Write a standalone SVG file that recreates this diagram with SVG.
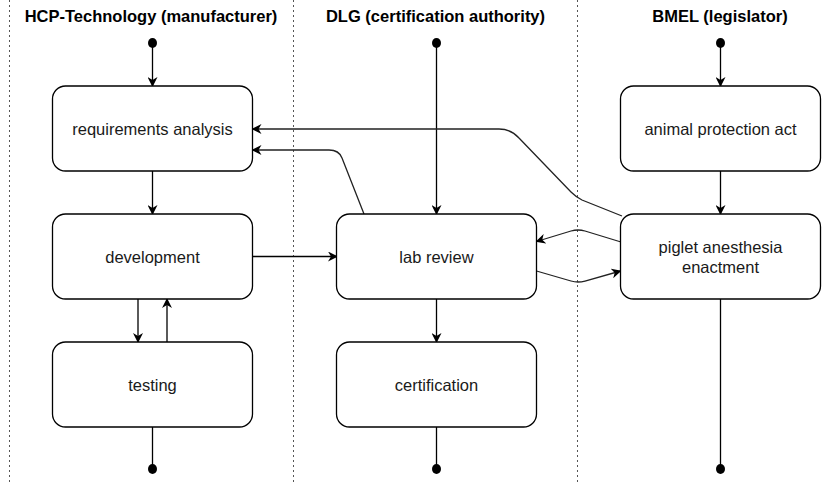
<svg xmlns="http://www.w3.org/2000/svg" width="829" height="485" viewBox="0 0 829 485">
<style>
.lane{stroke:#555;stroke-width:1;stroke-dasharray:2 3;fill:none}
.title{font-family:"Liberation Sans",Arial,sans-serif;font-size:16.5px;font-weight:bold;fill:#000;text-anchor:middle}
.box{fill:#fff;stroke:#000;stroke-width:1.3}
.lbl{font-family:"Liberation Sans",Arial,sans-serif;font-size:16.5px;fill:#1a1a1a;text-anchor:middle}
.e{fill:none;stroke:#000;stroke-width:1.3}
.c{fill:none;stroke:#222;stroke-width:1.3}
.dot{fill:#000}
</style>
<defs>
<marker id="arr" viewBox="0 0 10 10" refX="9" refY="5" markerWidth="10" markerHeight="10" markerUnits="userSpaceOnUse" orient="auto">
<path d="M0,0 L10,5 L0,10 L3,5 Z" fill="#000"/>
</marker>
</defs>
<g id="lanes">
<line class="lane" x1="9.5" y1="0" x2="9.5" y2="485"/>
<line class="lane" x1="293.5" y1="0" x2="293.5" y2="485"/>
<line class="lane" x1="577.5" y1="0" x2="577.5" y2="485"/>
<text class="title" x="151" y="22">HCP-Technology (manufacturer)</text>
<text class="title" x="435.5" y="22">DLG (certification authority)</text>
<text class="title" x="720" y="22">BMEL (legislator)</text>
</g>
<g id="connectors">
<ellipse class="dot" cx="152.5" cy="43" rx="4.5" ry="5"/>
<ellipse class="dot" cx="436.5" cy="43" rx="4.5" ry="5"/>
<ellipse class="dot" cx="720.5" cy="43" rx="4.5" ry="5"/>
<ellipse class="dot" cx="152.5" cy="469" rx="4.5" ry="5"/>
<ellipse class="dot" cx="436.5" cy="469" rx="4.5" ry="5"/>
<ellipse class="dot" cx="720.5" cy="469" rx="4.5" ry="5"/>
<path class="e" d="M152.5,43 L152.5,86" marker-end="url(#arr)"/>
<path class="e" d="M152.5,171 L152.5,214" marker-end="url(#arr)"/>
<path class="e" d="M138,299 L138,342" marker-end="url(#arr)"/>
<path class="e" d="M167,342 L167,299" marker-end="url(#arr)"/>
<path class="e" d="M152.5,427 L152.5,469"/>
<path class="e" d="M252.5,256.5 L337,256.5" marker-end="url(#arr)"/>
<path class="e" d="M436.5,43 L436.5,214" marker-end="url(#arr)"/>
<path class="e" d="M436.5,299 L436.5,342" marker-end="url(#arr)"/>
<path class="e" d="M436.5,427 L436.5,469"/>
<path class="e" d="M720.5,43 L720.5,86" marker-end="url(#arr)"/>
<path class="e" d="M720.5,171 L720.5,214" marker-end="url(#arr)"/>
<path class="e" d="M720.5,299 L720.5,469"/>
<path class="c" d="M364,214 L342,158 Q339,150 329,150 L252.5,150" marker-end="url(#arr)"/>
<path class="c" d="M622,216 L582,200 Q576,197 571,192 L519,138 Q511,129 499,129 L252.5,129" marker-end="url(#arr)"/>
<path class="c" d="M621,242 L585,231 Q578,229 571,231 L536.5,241.5" marker-end="url(#arr)"/>
<path class="c" d="M536.5,271 L571,281 Q578,283 585,281 L620.5,271" marker-end="url(#arr)"/>
</g>
<g id="requirements-analysis">
<rect class="box" x="52.5" y="86" width="200" height="85" rx="13"/>
<text class="lbl" x="152.5" y="134.5">requirements analysis</text>
</g>
<g id="development">
<rect class="box" x="52.5" y="214" width="200" height="85" rx="13"/>
<text class="lbl" x="152.5" y="262.5">development</text>
</g>
<g id="testing">
<rect class="box" x="52.5" y="342" width="200" height="85" rx="13"/>
<text class="lbl" x="152.5" y="390.5">testing</text>
</g>
<g id="lab-review">
<rect class="box" x="336.5" y="214" width="200" height="85" rx="13"/>
<text class="lbl" x="436.5" y="262.5">lab review</text>
</g>
<g id="certification">
<rect class="box" x="336.5" y="342" width="200" height="85" rx="13"/>
<text class="lbl" x="436.5" y="390.5">certification</text>
</g>
<g id="animal-protection-act">
<rect class="box" x="620.5" y="86" width="200" height="85" rx="13"/>
<text class="lbl" x="720.5" y="134.5">animal protection act</text>
</g>
<g id="piglet-anesthesia-enactment">
<rect class="box" x="620.5" y="214" width="200" height="85" rx="13"/>
<text class="lbl" x="720.5" y="253">piglet anesthesia</text>
<text class="lbl" x="720.5" y="272.5">enactment</text>
</g>
</svg>
